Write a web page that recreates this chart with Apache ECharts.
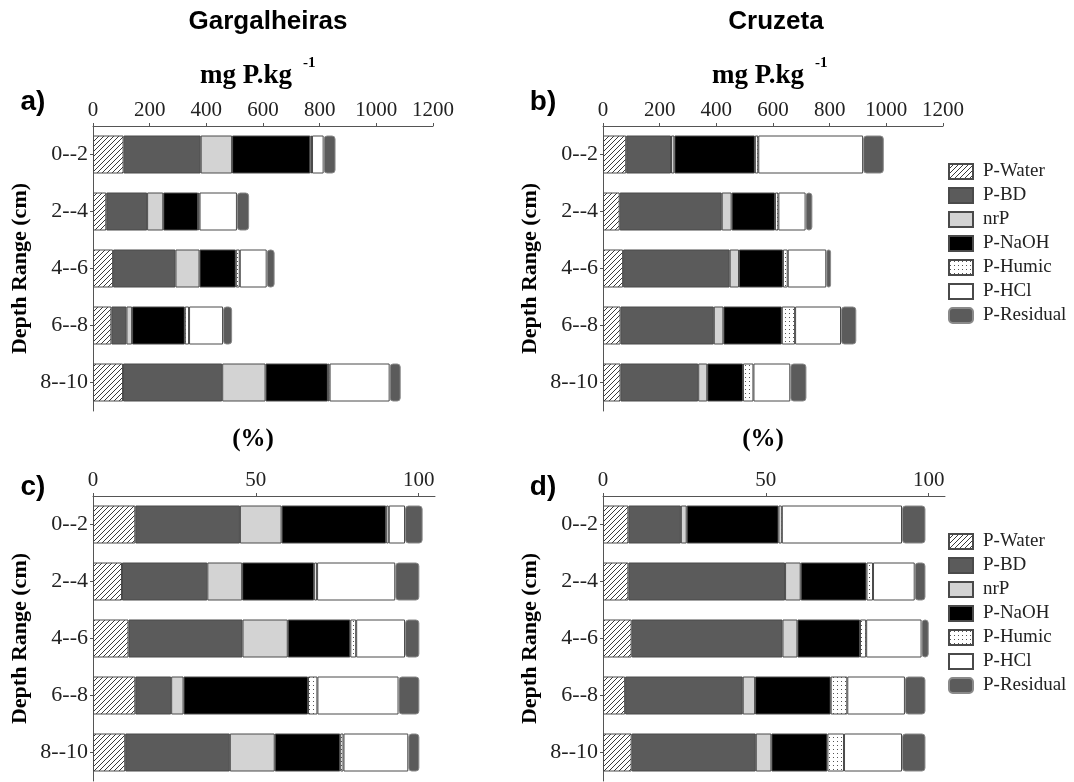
<!DOCTYPE html>
<html>
<head>
<meta charset="utf-8">
<script src="https://cdn.jsdelivr.net/npm/echarts@6/dist/echarts.min.js"></script>
<style>
  html, body { margin: 0; padding: 0; background: #fff; }
  #chart { width: 1074px; height: 782px; }
</style>
</head>
<body>
<div id="chart"></div>
<script>
const depths = ['0--2', '2--4', '4--6', '6--8', '8--10']
const fractions = ['P-Water', 'P-BD', 'nrP', 'P-NaOH', 'P-Humic', 'P-HCl', 'P-Residual']
const mgTicks = [0, 200, 400, 600, 800, 1000, 1200]
const pctTicks = [0, 50, 100]

// rows follow fractions, columns follow depths
const gargMg = [
  [108, 47, 71, 65, 106],
  [272, 144, 220, 53, 350],
  [111, 57, 85, 20, 153],
  [276, 123, 128, 186, 220],
  [6, 5, 14, 15, 6],
  [41, 132, 95, 120, 212],
  [42, 43, 28, 32, 39],
]
const cruzMg = [
  [82, 59, 71, 62, 62],
  [158, 360, 376, 329, 274],
  [12, 35, 33, 34, 32],
  [284, 153, 155, 206, 126],
  [12, 12, 17, 47, 37],
  [370, 96, 136, 162, 130],
  [73, 24, 17, 54, 57],
]
const gargPct = [
  [13.0, 8.9, 10.9, 13.0, 9.9],
  [32.1, 26.2, 35.0, 11.0, 32.1],
  [12.8, 10.7, 13.9, 3.8, 13.8],
  [32.1, 22.1, 19.2, 38.2, 20.1],
  [0.8, 0.9, 1.8, 2.9, 1.0],
  [5.0, 24.0, 15.0, 24.9, 19.9],
  [5.4, 7.4, 4.4, 6.4, 3.4],
]
const cruzPct = [
  [7.8, 7.8, 8.8, 6.8, 8.8],
  [16.1, 48.1, 46.3, 36.1, 38.1],
  [1.8, 4.8, 4.6, 3.8, 4.8],
  [28.2, 20.2, 19.2, 23.2, 17.2],
  [1.0, 2.0, 1.9, 5.1, 5.1],
  [36.9, 12.8, 17.0, 17.7, 17.8],
  [7.2, 3.3, 2.2, 6.3, 7.2],
]

const SERIF = '"Liberation Serif", "Times New Roman", serif'
const SANS = '"Liberation Sans", Arial, sans-serif'

function hatchPattern() {
  const c = document.createElement('canvas')
  c.width = c.height = 5
  const ctx = c.getContext('2d')
  ctx.fillStyle = '#fff'
  ctx.fillRect(0, 0, 5, 5)
  ctx.strokeStyle = '#3a3a3a'
  ctx.lineWidth = 1
  ctx.beginPath()
  ctx.moveTo(-1, 6); ctx.lineTo(6, -1)
  ctx.moveTo(-1, 1); ctx.lineTo(1, -1)
  ctx.moveTo(4, 6); ctx.lineTo(6, 4)
  ctx.stroke()
  return { image: c, repeat: 'repeat' }
}
function dotPattern() {
  const c = document.createElement('canvas')
  c.width = c.height = 4
  const ctx = c.getContext('2d')
  ctx.fillStyle = '#fff'
  ctx.fillRect(0, 0, 4, 4)
  ctx.fillStyle = '#555'
  ctx.fillRect(1, 1, 1, 1)
  return { image: c, repeat: 'repeat' }
}

const fills = [hatchPattern(), '#5b5b5b', '#d3d3d3', '#000', dotPattern(), '#fff', '#5b5b5b']

const panels = [
  { grid: { left: 93, top: 126, width: 340, height: 285 }, max: 1200, ticks: mgTicks, data: gargMg },
  { grid: { left: 603, top: 126, width: 340, height: 285 }, max: 1200, ticks: mgTicks, data: cruzMg },
  { grid: { left: 93, top: 496, width: 342, height: 285 }, max: 105, ticks: pctTicks, data: gargPct },
  { grid: { left: 603, top: 496, width: 342, height: 285 }, max: 105, ticks: pctTicks, data: cruzPct },
]

const chart = echarts.init(document.getElementById('chart'))

const series = []
panels.forEach((p, i) => {
  fractions.forEach((f, k) => {
    series.push({
      name: f,
      type: 'bar',
      xAxisIndex: i,
      yAxisIndex: i,
      stack: 'p' + i,
      barWidth: 38,
      silent: true,
      itemStyle: {
        color: fills[k],
        borderColor: k === 6 ? '#8a8a8a' : '#4a4a4a',
        borderWidth: 1,
        borderRadius: k === 6 ? 3 : 0,
      },
      data: p.data[k],
    })
  })
})

const legendBase = {
  orient: 'vertical',
  left: 948,
  itemWidth: 24,
  itemHeight: 15,
  itemGap: 5,
  padding: 0,
  selectedMode: false,
  textStyle: { fontFamily: SERIF, fontSize: 19, color: '#222', padding: [0, 0, 0, 5] },
  data: fractions.map(f => ({ name: f, icon: f === 'P-Residual' ? 'roundRect' : 'rect' })),
}

function text(x, y, str, font, align) {
  return { type: 'text', x, y, style: { text: str, font, fill: '#000', align: align || 'center', verticalAlign: 'middle' } }
}

chart.setOption({
  backgroundColor: '#fff',
  animation: false,
  grid: panels.map(p => p.grid),
  xAxis: panels.map((p, i) => ({
    type: 'value',
    gridIndex: i,
    position: 'top',
    min: 0,
    max: p.max,
    interval: p.ticks[1],
    splitLine: { show: false },
    axisLine: { show: true, lineStyle: { color: '#555', width: 1 } },
    axisTick: { show: true, length: 3, lineStyle: { color: '#555' }, customValues: p.ticks },
    axisLabel: { fontFamily: SERIF, fontSize: 21, color: '#222', margin: 5, customValues: p.ticks, formatter: v => String(v) },
  })),
  yAxis: panels.map((p, i) => ({
    type: 'category',
    gridIndex: i,
    data: depths,
    inverse: true,
    axisLine: { show: true, lineStyle: { color: '#555', width: 1 } },
    axisTick: { show: true, alignWithLabel: true, length: 3, lineStyle: { color: '#555' } },
    axisLabel: { fontFamily: SERIF, fontSize: 22, color: '#222', margin: 5 },
    name: 'Depth Range (cm)',
    nameLocation: 'middle',
    nameGap: 62,
    nameTextStyle: { fontFamily: SERIF, fontSize: 22, fontWeight: 'bold', color: '#000' },
  })),
  legend: [
    Object.assign({}, legendBase, { top: 162 }),
    Object.assign({}, legendBase, { top: 532 }),
  ],
  graphic: [
    text(268, 22, 'Gargalheiras', 'bold 26px ' + SANS),
    text(776, 22, 'Cruzeta', 'bold 26px ' + SANS),
    text(200, 76, 'mg P.kg', 'bold 27px ' + SERIF, 'left'),
    text(303, 63, '-1', 'bold 15px ' + SERIF, 'left'),
    text(712, 76, 'mg P.kg', 'bold 27px ' + SERIF, 'left'),
    text(815, 63, '-1', 'bold 15px ' + SERIF, 'left'),
    text(253, 440, '(%)', 'bold 25px ' + SERIF),
    text(763, 440, '(%)', 'bold 25px ' + SERIF),
    text(33, 102, 'a)', 'bold 28px ' + SANS),
    text(543, 102, 'b)', 'bold 28px ' + SANS),
    text(33, 487, 'c)', 'bold 28px ' + SANS),
    text(543, 487, 'd)', 'bold 28px ' + SANS),
  ],
  series,
})
window.addEventListener('resize', () => chart.resize())
</script>
</body>
</html>
